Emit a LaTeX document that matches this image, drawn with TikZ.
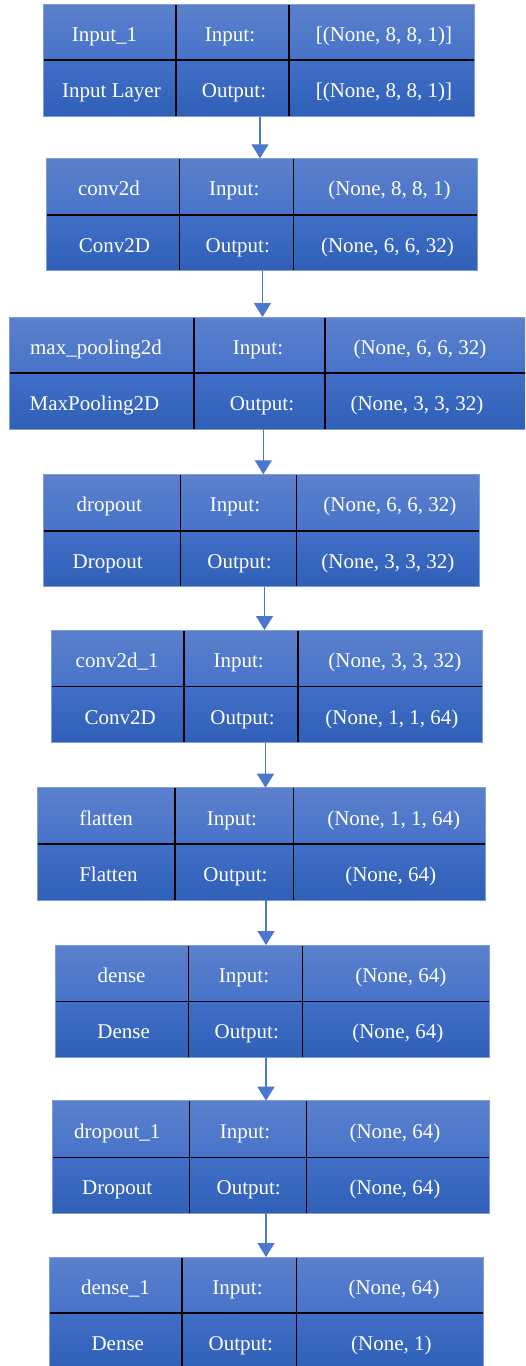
\documentclass[tikz,border=0pt]{standalone}
\usepackage{fontspec}
\setmainfont{Liberation Serif}
\usetikzlibrary{arrows.meta}
\definecolor{rowAt}{HTML}{5C80CB}
\definecolor{rowAb}{HTML}{4673CA}
\definecolor{rowBt}{HTML}{416FC8}
\definecolor{rowBb}{HTML}{2F5FB7}
\definecolor{edgecol}{HTML}{7E9DDB}
\definecolor{arrcol}{HTML}{4A78CC}
\tikzset{
  txt/.style={text=white, font=\fontsize{21}{25}\selectfont, anchor=base, inner sep=0pt},
  divider/.style={black, line width=1.1pt},
  edge/.style={draw=edgecol, line width=0.9pt},
  arr/.style={arrcol, line width=1.3pt, -{Triangle[length=14pt,width=17pt]}},
}
% id, x0, x1, x2, x3, y0, y1, y2
\newcommand\nnblk[8]{%
  \shade[top color=rowAt, bottom color=rowAb] (#2,#6) rectangle (#5,#7);
  \shade[top color=rowBt, bottom color=rowBb] (#2,#7) rectangle (#5,#8);
  \draw[divider] (#2,#7) -- (#5,#7);
  \draw[divider] (#3,#6) -- (#3,#8);
  \draw[divider] (#4,#6) -- (#4,#8);
  \node[edge, inner sep=0pt, outer sep=0pt, anchor=north west,
        minimum width={(#5-#2)*1pt}, minimum height={(#8-#6)*1pt}] (#1) at (#2,#6) {};
  \coordinate (#1-11) at ({(#2+#3)/2},{(#6+#7)/2+9.3});
  \coordinate (#1-12) at ({(#3+#4)/2},{(#6+#7)/2+9.3});
  \coordinate (#1-13) at ({(#4+#5)/2},{(#6+#7)/2+9.3});
  \coordinate (#1-21) at ({(#2+#3)/2},{(#7+#8)/2+9.3});
  \coordinate (#1-22) at ({(#3+#4)/2},{(#7+#8)/2+9.3});
  \coordinate (#1-23) at ({(#4+#5)/2},{(#7+#8)/2+9.3});
}
% horizontal text offsets: t11 t12 t13 t21 t22 t23
\newcommand\nnoff[6]{\def\oA{#1}\def\oB{#2}\def\oC{#3}\def\oD{#4}\def\oE{#5}\def\oF{#6}}
% id, name, type, in, out
\newcommand\nntext[5]{%
  \node[txt, xshift=\oA pt] (#1-t11) at (#1-11) {#2};
  \node[txt, xshift=\oB pt] (#1-t12) at (#1-12) {Input:};
  \node[txt, xshift=\oC pt] (#1-t13) at (#1-13) {#4};
  \node[txt, xshift=\oD pt] (#1-t21) at (#1-21) {#3};
  \node[txt, xshift=\oE pt] (#1-t22) at (#1-22) {Output:};
  \node[txt, xshift=\oF pt] (#1-t23) at (#1-23) {#5};
}
\begin{document}
\begin{tikzpicture}[x=1pt, y=-1pt]
\clip (0,0) rectangle (525,1366);
\fill[white] (0,0) rectangle (525,1366);

\nnblk{b1}{43}{176}{289}{474}{4}{60}{116.7}
\nnoff{-5}{-2.5}{2.5}{2}{1.5}{2.5}
\nntext{b1}{Input\_1}{Input Layer}{[(None, 8, 8, 1)]}{[(None, 8, 8, 1)]}

\nnblk{b2}{46.7}{179.3}{293.3}{477.7}{158.3}{215}{270.7}
\nnoff{-4}{-2}{4}{1.5}{1.5}{2}
\nntext{b2}{conv2d}{Conv2D}{(None, 8, 8, 1)}{(None, 6, 6, 32)}

\nnblk{b3}{9}{194}{325}{527}{317}{373}{429.3}
\nnoff{-5.5}{-1.5}{-6}{-7}{2.5}{-9}
\nntext{b3}{max\_pooling2d}{MaxPooling2D}{(None, 6, 6, 32)}{(None, 3, 3, 32)}

\nnblk{b4}{43.3}{180.5}{296.7}{479}{474.3}{531}{586.7}
\nnoff{-2.7}{-3.6}{2}{-4.2}{0.9}{0}
\nntext{b4}{dropout}{Dropout}{(None, 6, 6, 32)}{(None, 3, 3, 32)}

\nnblk{b5}{51.7}{184}{298}{482.7}{630}{686.7}{742.7}
\nnoff{-0.7}{-2.3}{4.6}{2.3}{1.5}{1.6}
\nntext{b5}{conv2d\_1}{Conv2D}{(None, 3, 3, 32)}{(None, 1, 1, 64)}

\nnblk{b6}{37.3}{175}{293.3}{485}{787.7}{844}{900}
\nnoff{0}{-2.2}{4.6}{2.3}{1.3}{1.6}
\nntext{b6}{flatten}{Flatten}{(None, 1, 1, 64)}{(None, 64)}

\nnblk{b7}{55}{188.3}{302.7}{489.3}{945}{1001.7}{1057.3}
\nnoff{0}{-1.5}{4.8}{2}{1.3}{1.8}
\nntext{b7}{dense}{Dense}{(None, 64)}{(None, 64)}

\nnblk{b8}{52.3}{189.3}{306.7}{489.3}{1100.7}{1157.3}{1213.3}
\nnoff{-3.6}{-3}{-3}{-3.6}{0.7}{-3}
\nntext{b8}{dropout\_1}{Dropout}{(None, 64)}{(None, 64)}

\nnblk{b9}{49}{182}{296.7}{483}{1257}{1313}{1370}
\nnoff{0}{-1.8}{4.2}{2.3}{1.4}{1.5}
\nntext{b9}{dense\_1}{Dense}{(None, 64)}{(None, 1)}

% connector end points
\coordinate (o1) at (b1.south -| 260,0);   \coordinate (i2) at (b2.north -| 260,0);
\coordinate (o2) at (b2.south -| 262.5,0); \coordinate (i3) at (b3.north -| 262.5,0);
\coordinate (o3) at (b3.south -| 263.3,0); \coordinate (i4) at (b4.north -| 263.3,0);
\coordinate (o4) at (b4.south -| 264.5,0); \coordinate (i5) at (b5.north -| 264.5,0);
\coordinate (o5) at (b5.south -| 265.5,0); \coordinate (i6) at (b6.north -| 265.5,0);
\coordinate (o6) at (b6.south -| 266,0);   \coordinate (i7) at (b7.north -| 266,0);
\coordinate (o7) at (b7.south -| 266,0);   \coordinate (i8) at (b8.north -| 266,0);
\coordinate (o8) at (b8.south -| 266,0);   \coordinate (i9) at (b9.north -| 266,0);

\draw[arr] (o1) -- (i2);
\draw[arr] (o2) -- (i3);
\draw[arr] (o3) -- (i4);
\draw[arr] (o4) -- (i5);
\draw[arr] (o5) -- (i6);
\draw[arr] (o6) -- (i7);
\draw[arr] (o7) -- (i8);
\draw[arr] (o8) -- (i9);
\end{tikzpicture}
\end{document}
